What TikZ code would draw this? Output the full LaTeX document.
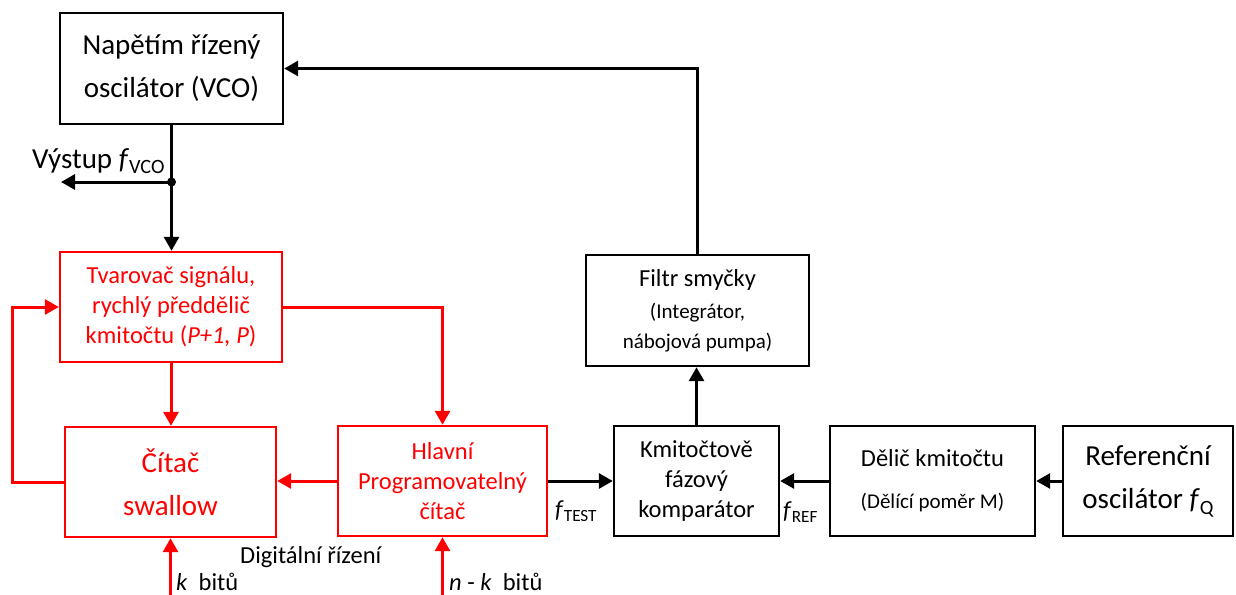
\documentclass[tikz,border=0pt]{standalone}
\usepackage{fontspec}
\setmainfont{Carlito}
\usetikzlibrary{arrows.meta,calc}
\definecolor{sigred}{RGB}{255,0,0}
% font sizes (large, medium, small)
\newcommand\fL{\fontsize{29}{43}\selectfont}
\newcommand\fM{\fontsize{24.5}{30}\selectfont}
\newcommand\fS{\fontsize{21}{31}\selectfont}
% italic symbol with upright subscript
\newcommand\fsub[2]{\textit{#1}\raisebox{-0.2em}{\scalebox{0.7}{#2}}}

\begin{document}
\begin{tikzpicture}[x=1pt,y=-1pt,
  blackbox/.style={draw=black, line width=2.4pt, align=center, inner sep=0pt},
  redbox/.style={blackbox, draw=sigred, text=sigred},
  wire/.style={line width=3pt, -{Triangle[length=14pt,width=15pt]}},
  redwire/.style={wire, draw=sigred},
  lbl/.style={inner sep=0pt, anchor=base west}
]
\path[use as bounding box, fill=white] (0,0) rectangle (1236,594);

% blocks
\node[blackbox, minimum width=223pt, minimum height=111pt, font=\fL] (vco) at (171.5,68.5)
  {Napětím řízený\\oscilátor (VCO)};
\node[redbox, minimum width=222pt, minimum height=110pt, font=\fM] (shaper) at (171,307)
  {Tvarovač signálu,\\rychlý předdělič\\kmitočtu (\textit{P+1, P})};
\node[redbox, minimum width=211pt, minimum height=110pt, font=\fL] (swallow) at (170.5,482)
  {Čítač\\swallow};
\node[redbox, minimum width=209pt, minimum height=110pt, font=\fM] (main) at (442.5,481)
  {Hlavní\\Programovatelný\\čítač};
\node[blackbox, minimum width=165pt, minimum height=110pt, font=\fM] (pfd) at (696.5,481)
  {Kmitočtově\\fázový\\komparátor};
\node[blackbox, minimum width=223pt, minimum height=111pt, font=\fM] (filter) at (697.5,310.5)
  {Filtr smyčky\\[2pt]{\fS (Integrátor,}\\{\fS nábojová pumpa)}};
\node[blackbox, minimum width=205pt, minimum height=110pt, font=\fM] (divider) at (932.5,481)
  {Dělič kmitočtu\\[12pt]{\fS (Dělící poměr M)}};
\node[blackbox, minimum width=170pt, minimum height=110pt, font=\fL] (ref) at (1148,481)
  {Referenční\\oscilátor \fsub{f}{Q}};

% labels
\node[lbl, font=\fL] (outlbl) at (32,168) {Výstup \fsub{f}{VCO}};
\node[lbl, font=\fM] (ftest) at (555,517) {\fsub{f}{TEST}};
\node[lbl, font=\fM] (fref) at (783,518) {\fsub{f}{REF}};
\node[lbl, font=\fM] (dig) at (240,563) {Digitální řízení};
\node[lbl, font=\fM] (kbits) at (176,590) {\textit{k}\ \ bitů};
\node[lbl, font=\fM] (nkbits) at (449,590) {\textit{n} - \textit{k}\ \ bitů};

% free ends and bends
\coordinate (tap) at (171.5,182);
\coordinate (outend) at (61,182);
\coordinate (loop) at (12.6,482);
\coordinate (kin) at (170.5,596);
\coordinate (nkin) at (442.5,596);

% black signal path
\draw[wire] (filter.north) |- (vco.east);
\draw[wire] (vco.south) -- (vco.south |- shaper.north);
\fill (tap) circle (4.5pt);
\draw[wire] (tap) -- (outend);
\draw[wire] (main.east) -- (main.east -| pfd.west);
\draw[wire] (pfd.north) -- (pfd.north |- filter.south);
\draw[wire] (divider.west) -- (divider.west -| pfd.east);
\draw[wire] (ref.west) -- (ref.west -| divider.east);

% red counter section
\draw[redwire] (shaper.south) -- (shaper.south |- swallow.north);
\draw[redwire] (shaper.east) -| (main.north);
\draw[redwire] (swallow.west) -- (loop) |- (shaper.west);
\draw[redwire] (main.west) -- (main.west -| swallow.east);
\draw[redwire] (kin) -- (swallow.south);
\draw[redwire] (nkin) -- (main.south);
\end{tikzpicture}
\end{document}
